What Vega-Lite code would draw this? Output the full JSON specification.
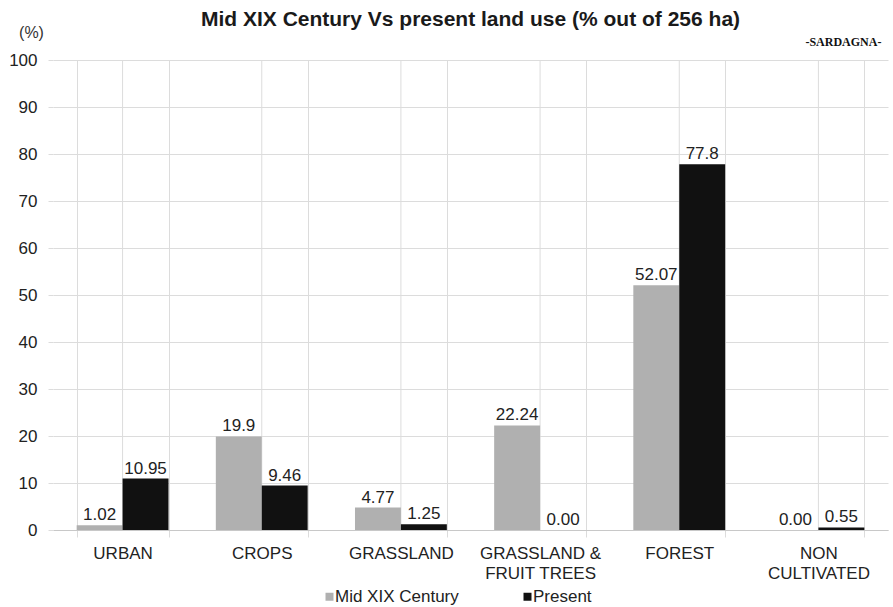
{
  "$schema": "https://vega.github.io/schema/vega-lite/v6.json",
  "width": 835,
  "height": 470,
  "autosize": {"type": "none"},
  "padding": {"left": 53, "top": 60, "right": 5, "bottom": 77},
  "background": "white",
  "title": {
    "text": "Mid XIX Century Vs present land use (% out of 256 ha)",
    "font": "Liberation Sans",
    "fontSize": 21,
    "fontWeight": "bold",
    "color": "#1a1a1a",
    "anchor": "middle",
    "frame": "group",
    "offset": -6
  },
  "config": {
    "view": {"stroke": null},
    "font": "Liberation Sans",
    "axis": {"labelFont": "Liberation Sans", "titleFont": "Liberation Sans"},
    "legend": {"labelFont": "Liberation Sans"}
  },
  "datasets": {
    "landuse": [
      {"category": "URBAN", "series": "Mid XIX Century", "value": 1.02, "label": "1.02"},
      {"category": "URBAN", "series": "Present", "value": 10.95, "label": "10.95"},
      {"category": "CROPS", "series": "Mid XIX Century", "value": 19.9, "label": "19.9"},
      {"category": "CROPS", "series": "Present", "value": 9.46, "label": "9.46"},
      {"category": "GRASSLAND", "series": "Mid XIX Century", "value": 4.77, "label": "4.77"},
      {"category": "GRASSLAND", "series": "Present", "value": 1.25, "label": "1.25"},
      {"category": "GRASSLAND & FRUIT TREES", "series": "Mid XIX Century", "value": 22.24, "label": "22.24"},
      {"category": "GRASSLAND & FRUIT TREES", "series": "Present", "value": 0.0, "label": "0.00"},
      {"category": "FOREST", "series": "Mid XIX Century", "value": 52.07, "label": "52.07"},
      {"category": "FOREST", "series": "Present", "value": 77.8, "label": "77.8"},
      {"category": "NON CULTIVATED", "series": "Mid XIX Century", "value": 0.0, "label": "0.00"},
      {"category": "NON CULTIVATED", "series": "Present", "value": 0.55, "label": "0.55"}
    ],
    "note": [{"text": "-SARDAGNA-", "category": "NON CULTIVATED", "value": 100}]
  },
  "encoding": {
    "x": {
      "field": "category",
      "type": "nominal",
      "sort": null,
      "scale": {"paddingInner": 0.34, "paddingOuter": 0.17},
      "axis": {
        "title": null,
        "labelAngle": 0,
        "labelFontSize": 17,
        "labelColor": "#222222",
        "labelPadding": 8,
        "labelLineHeight": 20,
        "labelBaseline": "top",
        "labelExpr": "datum.value == 'GRASSLAND & FRUIT TREES' ? ['GRASSLAND &', 'FRUIT TREES'] : datum.value == 'NON CULTIVATED' ? ['NON', 'CULTIVATED'] : datum.value",
        "tickBand": "extent",
        "grid": true,
        "gridColor": "#dcdcdc",
        "ticks": true,
        "tickColor": "#dcdcdc",
        "tickSize": 7,
        "domainColor": "#c8c8c8"
      }
    }
  },
  "layer": [
    {
      "data": {"name": "landuse"},
      "transform": [{"filter": "datum.series == 'Present'"}],
      "mark": {"type": "rule", "color": "#dcdcdc", "strokeWidth": 1},
      "encoding": {
        "x": {"field": "category", "type": "nominal", "sort": null, "bandPosition": 0.5}
      }
    },
    {
      "data": {"name": "landuse"},
      "mark": {"type": "bar"},
      "encoding": {
        "xOffset": {"field": "series", "type": "nominal", "sort": null},
        "y": {
          "field": "value",
          "type": "quantitative",
          "scale": {"domain": [0, 100]},
          "axis": {
            "values": [0, 10, 20, 30, 40, 50, 60, 70, 80, 90, 100],
            "title": "(%)",
            "titleAngle": 0,
            "titleX": -22,
            "titleY": -28,
            "titleAlign": "center",
            "titleBaseline": "middle",
            "titleFontSize": 16,
            "titleFontWeight": "normal",
            "titleColor": "#333333",
            "labelFontSize": 17,
            "labelColor": "#222222",
            "labelPadding": 11,
            "ticks": true,
            "tickSize": 5,
            "tickColor": "#dcdcdc",
            "domain": false,
            "grid": true,
            "gridColor": "#dcdcdc"
          }
        },
        "color": {
          "field": "series",
          "type": "nominal",
          "sort": null,
          "scale": {"domain": ["Mid XIX Century", "Present"], "range": ["#b0b0b0", "#111111"]},
          "legend": {
            "title": null,
            "orient": "none",
            "legendX": 268,
            "legendY": 528,
            "direction": "horizontal",
            "symbolType": "square",
            "symbolSize": 64,
            "symbolStrokeWidth": 0,
            "labelFontSize": 17,
            "labelColor": "#222222",
            "labelOffset": -3,
            "columnPadding": 60
          }
        }
      }
    },
    {
      "data": {"name": "landuse"},
      "mark": {"type": "text", "dy": -1, "fontSize": 17, "color": "#222222", "baseline": "bottom"},
      "encoding": {
        "xOffset": {"field": "series", "type": "nominal", "sort": null},
        "y": {"field": "value", "type": "quantitative"},
        "text": {"field": "label", "type": "nominal"}
      }
    },
    {
      "data": {"name": "note"},
      "mark": {"type": "text", "font": "Liberation Serif", "fontWeight": "bold", "fontSize": 12, "align": "right", "baseline": "middle", "dx": 63, "dy": -18, "color": "#111111"},
      "encoding": {
        "x": {"field": "category", "type": "nominal", "sort": null, "bandPosition": 0.5},
        "y": {"field": "value", "type": "quantitative"},
        "text": {"field": "text", "type": "nominal"}
      }
    }
  ]
}
